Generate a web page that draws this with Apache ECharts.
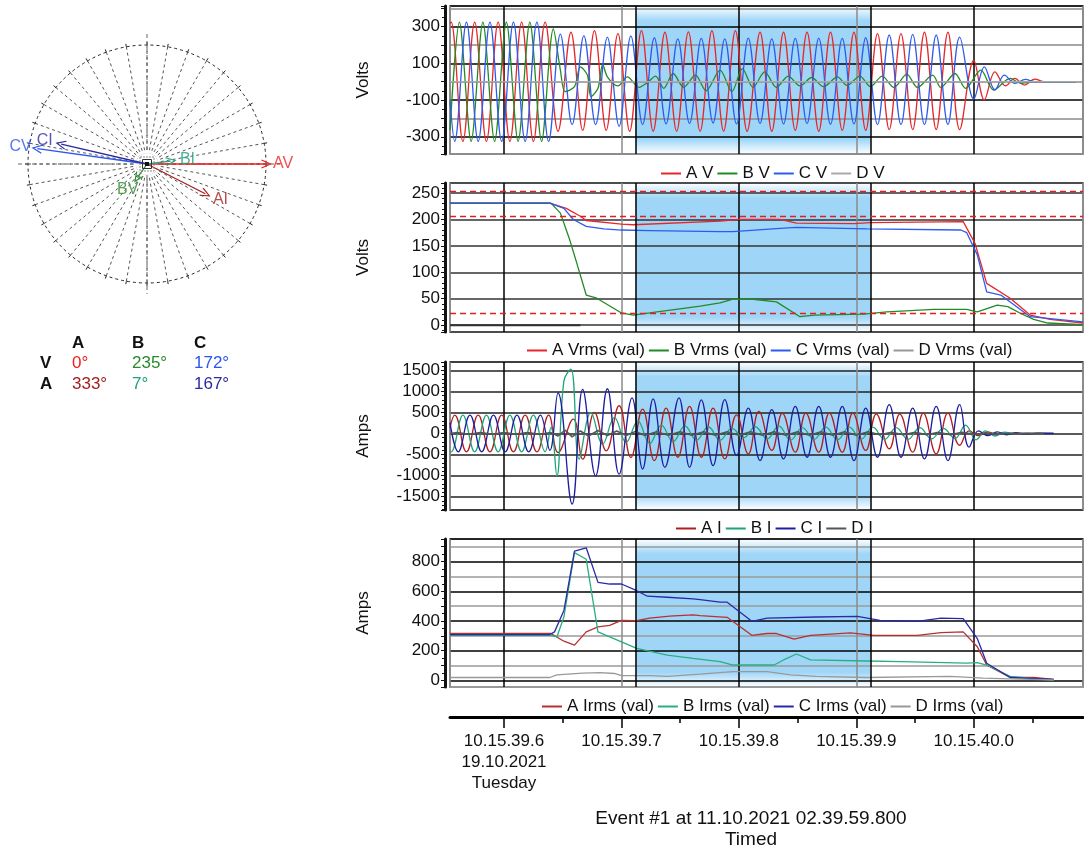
<!DOCTYPE html>
<html>
<head>
<meta charset="utf-8">
<script src="https://cdn.jsdelivr.net/npm/echarts/dist/echarts.min.js"></script>
<style>html,body{margin:0;padding:0;background:#fff}#main{width:1084px;height:849px}</style>
</head>
<body>
<div id="main"></div>
<script>
var FONT = '"Liberation Sans", Arial, sans-serif';
var chartDom = document.getElementById('main');
var myChart = echarts.init(chartDom);

// time is ms after 10.15.39.000
var timeMin = 554, timeMax = 1093;
var cursorTimes = [712, 912];
var tickTimes = [600, 700, 800, 900, 1000];
var tickLabels = ['10.15.39.6\n19.10.2021\nTuesday', '10.15.39.7', '10.15.39.8', '10.15.39.9', '10.15.40.0'];
var minorTickTimes = [650, 750, 850, 950, 1050];

var voltWaveLabels = [300, 100, -100, -300];
var vrmsLimits = [253, 207, 23];

// phasors
var phasorNames = ['A', 'B', 'C'];
var voltAngles = [0, 235, 172];
var voltMags = [1.0, 0.14, 0.93];
var currAngles = [333, 7, 167];
var currMags = [0.55, 0.2, 0.74];

var voltColors = ['#e8262a', '#238a23', '#2d5bf0', '#aaaaaa'];
var currColors = ['#b21e1e', '#1fa478', '#1d1da0', '#555555'];
var irmsColors = ['#b83030', '#2aae80', '#2a2aa8', '#999999'];

// instantaneous voltages [ms, V] (peaks and troughs)
var avWave = [[554,318],[555,325],[565,-325],[575,325],[585,-325],[595,325],[605,-325],[615,325],[625,-325],[635,325],[646,-270],[657,270],[667,-265],[677,279],[687,-265],[697,262],[707,-270],[717,279],[727,-270],[737,270],[747,-270],[757,272],[767,-270],[777,279],[787,-270],[797,279],[807,-270],[818,270],[828,-270],[838,270],[848,-265],[858,270],[868,-270],[878,270],[888,-265],[898,270],[908,-265],[918,262],[928,-261],[938,262],[948,-261],[958,270],[968,-261],[978,270],[988,-261],[1000,117],[1009,-99],[1018,54],[1027,-23],[1035,18],[1043,-18],[1052,14],[1060,0],[1087,0]];
var bvWave = [[554,-263],[562,325],[572,-325],[582,325],[592,-325],[602,325],[612,-325],[622,325],[632,-325],[642,288],[648,63],[652,-54],[660,-27],[665,81],[671,36],[674,-81],[680,-36],[684,95],[688,27],[697,-23],[705,27],[715,-31],[722,-5],[729,31],[736,-36],[744,45],[753,-31],[763,36],[772,-49],[784,63],[794,-54],[803,72],[812,-31],[822,54],[832,-31],[842,31],[852,-23],[862,23],[872,-27],[884,27],[892,-20],[903,31],[912,-27],[922,31],[932,-31],[943,41],[952,-31],[965,36],[972,-31],[984,45],[993,-36],[1006,63],[1017,-45],[1031,18],[1040,-9],[1050,0],[1087,0]];
var cvWave = [[554,-100],[558,-325],[568,325],[578,-325],[588,325],[598,-325],[608,325],[618,-325],[628,325],[638,-325],[648,260],[658,-234],[668,252],[678,-234],[688,243],[698,-243],[708,250],[718,-234],[728,240],[738,-230],[748,234],[758,-228],[768,236],[778,-225],[788,234],[798,-230],[808,238],[818,-228],[828,234],[838,-230],[848,236],[858,-228],[868,238],[878,-232],[888,236],[898,-230],[908,240],[918,-234],[928,255],[938,-234],[948,258],[958,-234],[968,255],[978,-234],[988,243],[1000,-95],[1009,81],[1018,-45],[1026,36],[1035,-9],[1044,13],[1052,0],[1087,0]];
var dvWave = [[554,0],[1087,0]];

// rms voltages [ms, V]
var avRms = [[554,231],[639,231],[653,221],[665,206],[670,198],[700,191],[710,190],[784,197],[801,200],[835,200],[849,193],[898,192],[912,194],[991,196],[1001,155],[1011,79],[1031,51],[1048,19],[1065,11],[1093,4]];
var bvRms = [[554,231],[640,231],[648,212],[656,161],[662,117],[670,57],[679,51],[700,23],[710,19],[724,23],[767,36],[784,42],[795,49],[812,49],[832,44],[852,16],[864,19],[906,21],[926,25],[966,30],[994,30],[1003,25],[1020,38],[1029,35],[1040,22],[1051,11],[1063,4],[1093,1]];
var cvRms = [[554,231],[639,231],[651,221],[659,200],[670,187],[685,182],[700,180],[724,179],[784,177],[795,177],[835,183],[849,185],[909,182],[989,180],[994,175],[1003,133],[1011,63],[1023,57],[1048,16],[1093,6]];
var dvRms = [[554,0],[665,0]];

// instantaneous currents [ms, A]
var aiWave = [[554,135],[558,436],[568,-436],[578,436],[588,-436],[598,436],[608,-436],[618,436],[628,-436],[638,436],[646,-452],[659,341],[667,-611],[677,500],[687,-413],[698,659],[708,-571],[718,580],[728,-645],[738,605],[748,-565],[758,645],[768,-565],[778,605],[788,-605],[798,444],[808,-484],[817,524],[828,-403],[837,480],[848,-444],[857,484],[868,-444],[877,484],[888,-444],[897,484],[908,-403],[917,460],[928,-363],[937,460],[948,-444],[957,484],[968,-484],[978,484],[988,-280],[996,60],[1004,-50],[1012,40],[1020,-30],[1028,20],[1036,-10],[1046,8],[1054,0],[1068,0]];
var biWave = [[554,-430],[555,-436],[565,436],[575,-436],[585,436],[595,-436],[605,436],[615,-436],[625,436],[635,-436],[640,150],[645,-1008],[651,1250],[657,1532],[664,-611],[674,500],[684,-254],[694,381],[704,-214],[714,302],[724,-240],[734,200],[744,-200],[754,180],[764,-160],[774,160],[784,-160],[794,120],[804,-100],[814,160],[824,-130],[834,180],[844,-160],[854,140],[864,-140],[874,150],[884,-150],[894,150],[904,-140],[914,150],[924,-140],[934,140],[944,-140],[954,140],[964,-130],[974,120],[984,-120],[993,200],[1002,-150],[1010,60],[1018,-60],[1026,30],[1035,0],[1068,0]];
var ciWave = [[554,256],[561,-436],[571,436],[581,-436],[591,436],[601,-436],[611,436],[621,-436],[631,436],[639,-400],[646,968],[658,-1677],[667,1048],[678,-1008],[688,1064],[698,-968],[709,847],[718,-847],[727,823],[737,-806],[749,847],[758,-806],[768,800],[778,-766],[788,806],[798,-524],[808,605],[818,-645],[828,565],[838,-605],[848,645],[858,-565],[868,645],[878,-565],[888,645],[898,-645],[908,605],[918,-565],[928,685],[938,-565],[948,605],[958,-605],[968,645],[978,-645],[988,685],[996,-323],[1004,60],[1012,-50],[1020,40],[1028,-30],[1036,20],[1044,-10],[1054,5],[1068,0]];
var diWave = [[554,0],[560,20],[570,-20],[580,20],[590,-20],[600,20],[610,-20],[620,20],[630,-20],[640,20],[646,-60],[652,80],[658,-80],[665,60],[672,-60],[680,70],[688,-50],[696,60],[704,-50],[712,50],[720,-50],[730,40],[740,-40],[750,40],[760,-40],[770,40],[780,-40],[790,40],[800,-40],[810,40],[820,-40],[830,40],[840,-40],[850,40],[860,-40],[870,40],[880,-40],[890,40],[900,-40],[910,40],[920,-30],[930,30],[940,-30],[950,30],[960,-30],[970,30],[980,-30],[990,30],[1000,-20],[1010,10],[1020,-10],[1030,0],[1060,0]];

// rms currents [ms, A]
var aiRms = [[554,316],[640,316],[651,264],[660,238],[670,327],[680,360],[690,371],[700,404],[713,402],[724,420],[741,433],[761,442],[767,436],[790,425],[811,304],[824,316],[832,316],[847,278],[861,304],[895,320],[915,304],[952,304],[972,322],[991,327],[1003,227],[1011,104],[1031,20],[1051,20],[1068,7]];
var biRms = [[554,304],[640,304],[645,293],[651,427],[660,860],[670,816],[680,327],[700,260],[713,216],[739,171],[761,149],[784,127],[795,104],[830,104],[838,138],[849,178],[861,138],[909,131],[938,127],[994,116],[1003,120],[1011,104],[1031,27],[1068,0]];
var ciRms = [[554,309],[639,309],[643,327],[651,471],[660,871],[670,893],[680,660],[690,649],[700,649],[713,604],[722,567],[739,560],[761,549],[767,544],[784,527],[790,527],[811,398],[824,420],[866,427],[901,431],[920,404],[952,398],[972,420],[991,416],[1003,282],[1011,116],[1031,20],[1068,7]];
var diRms = [[554,20],[639,20],[645,38],[667,49],[682,53],[694,47],[700,33],[724,33],[739,27],[767,42],[795,60],[824,60],[844,38],[866,27],[909,20],[980,27],[1008,16],[1031,11],[1068,4]];

var gridTops = [6, 183, 362, 539];
var gridHeights = [148, 149, 148, 148];

var highlight = new echarts.graphic.LinearGradient(0, 0, 0, 1, [
    {offset: 0, color: 'rgba(159,214,248,0)'},
    {offset: 0.1, color: '#9fd6f8'},
    {offset: 0.9, color: '#9fd6f8'},
    {offset: 1, color: 'rgba(159,214,248,0)'}
]);

function cursorMarks(extra) {
    var data = [{xAxis: cursorTimes[0]}, {xAxis: cursorTimes[1]}];
    return {
        symbol: ['none', 'none'], silent: true, label: {show: false},
        lineStyle: {color: '#000', type: 'solid', width: 1.5},
        data: data.concat(extra || [])
    };
}

function line(name, data, color, idx, smooth, width, first, extra) {
    var s = {
        name: name, type: 'line', xAxisIndex: idx, yAxisIndex: idx,
        data: data, symbol: 'none', smooth: smooth,
        lineStyle: {color: color, width: width || 1.3},
        itemStyle: {color: color}, z: 2
    };
    if (first) {
        s.markLine = cursorMarks(extra);
        s.markArea = {silent: true, z: 0.5, itemStyle: {color: highlight},
            data: [[{xAxis: cursorTimes[0]}, {xAxis: cursorTimes[1]}]]};
    }
    return s;
}

var limitMarks = vrmsLimits.map(function (v) {
    return {yAxis: v, lineStyle: {color: '#e02020', type: [6, 4], width: 1.3}};
});

var series = [
    line('A V', avWave, voltColors[0], 0, 0.36, 1.3, true),
    line('B V', bvWave, voltColors[1], 0, 0.3),
    line('C V', cvWave, voltColors[2], 0, 0.36),
    line('D V', dvWave, voltColors[3], 0, false),
    line('A Vrms (val)', avRms, voltColors[0], 1, false, 1.3, true, limitMarks),
    line('B Vrms (val)', bvRms, voltColors[1], 1, false),
    line('C Vrms (val)', cvRms, voltColors[2], 1, false),
    line('D Vrms (val)', dvRms, '#333333', 1, false, 2),
    line('A I', aiWave, currColors[0], 2, 0.45, 1.3, true),
    line('B I', biWave, currColors[1], 2, 0.4),
    line('C I', ciWave, currColors[2], 2, 0.42),
    line('D I', diWave, currColors[3], 2, false, 1.6),
    line('A Irms (val)', aiRms, irmsColors[0], 3, false, 1.3, true),
    line('B Irms (val)', biRms, irmsColors[1], 3, false),
    line('C Irms (val)', ciRms, irmsColors[2], 3, false),
    line('D Irms (val)', diRms, irmsColors[3], 3, false)
];

// phasor arrows and labels
var ARROW = 'path://M0,10 L5,0 L10,10';
var phasorColors = ['#ee2020', '#2a8a2a', '#2a55ee', '#a52020', '#20a080', '#2c2c9c'];
var phasors = [];
phasorNames.forEach(function (p, i) {
    phasors.push({name: p + 'V', ang: voltAngles[i], mag: voltMags[i], color: phasorColors[i]});
});
phasorNames.forEach(function (p, i) {
    phasors.push({name: p + 'I', ang: currAngles[i], mag: currMags[i], color: phasorColors[3 + i]});
});
var labelData = [];
phasors.forEach(function (ph) {
    series.push({
        type: 'line', coordinateSystem: 'polar', polarIndex: 0, silent: true, z: 3,
        symbol: ARROW, symbolSize: [8, 9],
        lineStyle: {color: ph.color, width: 1.3},
        itemStyle: {color: 'none', borderColor: ph.color, borderWidth: 1.2},
        data: [{value: [0, ph.ang], symbol: 'none'},
               {value: [ph.mag, ph.ang], symbolRotate: ph.ang - 90}]
    });
    var rad = ph.ang * Math.PI / 180;
    labelData.push({
        name: ph.name, value: [ph.mag, ph.ang],
        label: {color: ph.color, offset: [Math.cos(rad) * 17, -Math.sin(rad) * 14]}
    });
});
series.push({
    type: 'scatter', coordinateSystem: 'polar', polarIndex: 0, silent: true, z: 4,
    symbolSize: 1, itemStyle: {color: 'rgba(0,0,0,0)'},
    label: {show: true, position: 'inside', formatter: '{b}', fontSize: 16, fontFamily: FONT},
    data: labelData
});

var xAxes = [];
var yAxes = [];
for (var g = 0; g < 4; g++) {
    xAxes.push({
        type: 'value', gridIndex: g, min: timeMin, max: timeMax, splitNumber: 5, z: 1,
        axisLine: {show: false}, axisTick: {show: false}, axisLabel: {show: false},
        splitLine: {show: true, lineStyle: {color: ['#8a8a8a', '#000'], width: 1.5}}
    });
}
xAxes.push({
    type: 'value', gridIndex: 4, min: timeMin, max: timeMax, position: 'bottom',
    axisLine: {show: true, onZero: false, lineStyle: {color: '#000', width: 3}},
    axisTick: {show: true, customValues: tickTimes, length: 11, lineStyle: {color: '#000', width: 1.5}},
    axisLabel: {
        customValues: tickTimes, margin: 14, fontSize: 17, lineHeight: 21, color: '#111', fontFamily: FONT,
        formatter: function (v) { var i = tickTimes.indexOf(v); return i >= 0 ? tickLabels[i] : ''; }
    },
    splitLine: {show: false}
});
xAxes.push({
    type: 'value', gridIndex: 4, min: timeMin, max: timeMax, position: 'top',
    axisLine: {show: false},
    axisTick: {show: true, inside: true, customValues: minorTickTimes, length: 6, lineStyle: {color: '#000', width: 1.5}},
    axisLabel: {show: false}, splitLine: {show: false}
});

function yAxis(g, min, max, split, minor, name, labelFilter, splitColor) {
    return {
        type: 'value', gridIndex: g, min: min, max: max, splitNumber: split, offset: 5, z: 1,
        name: name, nameLocation: 'middle', nameGap: 73,
        nameTextStyle: {fontSize: 17, color: '#111', fontFamily: FONT},
        axisLine: {show: true, onZero: false, lineStyle: {color: '#111', width: 3}},
        axisTick: {show: true, length: 4, lineStyle: {color: '#111'}},
        minorTick: {show: true, splitNumber: minor, length: 3, lineStyle: {color: '#111'}},
        axisLabel: {
            fontSize: 17, color: '#111', margin: 5, fontFamily: FONT,
            showMinLabel: false, showMaxLabel: false,
            formatter: function (v) { return labelFilter(v) ? String(v) : ''; }
        },
        splitLine: {show: true, lineStyle: {color: splitColor, width: 1.5}}
    };
}
yAxes.push(yAxis(0, -394, 413, 8, 2, 'Volts', function (v) { return voltWaveLabels.indexOf(v) >= 0; }, ['#8a8a8a', '#000']));
yAxes.push(yAxis(1, -13, 269, 5, 5, 'Volts', function (v) { return v >= 0 && v % 50 === 0; }, '#333'));
yAxes.push(yAxis(2, -1820, 1700, 7, 5, 'Amps', function (v) { return v % 500 === 0; }, '#222'));
yAxes.push(yAxis(3, -44, 952, 10, 2, 'Amps', function (v) { return v >= 0 && v % 200 === 0; }, ['#9a9a9a', '#000']));
yAxes.push({type: 'value', gridIndex: 4, show: false});

var grids = gridTops.map(function (t, i) {
    return {left: 450, right: 1, top: t, height: gridHeights[i], show: true, borderColor: '#999', borderWidth: 2};
});
grids.push({left: 450, right: 1, top: 716, height: 1});

function legend(names, left, top) {
    return {
        data: names, left: left, top: top, itemWidth: 20, itemHeight: 2, itemGap: 4,
        icon: 'path://M0,0 L20,0 L20,2 L0,2 Z',
        selectedMode: false, textStyle: {fontSize: 17, color: '#111', fontFamily: FONT}
    };
}

var tableCols = ['A', 'B', 'C'];
var tableRows = ['V', 'A'];
var colX = [72, 132, 194];
var rowY = [363, 384];
var graphics = [
    {type: 'line', z: 1, shape: {x1: 147, y1: 34, x2: 147, y2: 294}, style: {stroke: '#666', lineDash: [4, 3], lineWidth: 1}},
    {type: 'line', z: 1, shape: {x1: 18, y1: 164, x2: 280, y2: 164}, style: {stroke: '#666', lineDash: [4, 3], lineWidth: 1}},
    {type: 'circle', z: 1, shape: {cx: 147, cy: 164, r: 11}, style: {fill: '#fff'}},
    {type: 'rect', z: 5, shape: {x: 140, y: 157, width: 14, height: 14}, style: {fill: 'none', stroke: '#888', lineDash: [2, 1], lineWidth: 1}},
    {type: 'rect', z: 5, shape: {x: 142.5, y: 159.5, width: 9, height: 9}, style: {fill: 'none', stroke: '#333', lineWidth: 1}},
    {type: 'rect', z: 5, shape: {x: 145, y: 162, width: 4, height: 4}, style: {fill: '#111'}}
];
function txt(s, x, y, color, bold) {
    return {type: 'text', x: x, y: y, style: {
        text: s, fill: color, font: (bold ? 'bold ' : '') + '17px ' + FONT,
        align: 'left', verticalAlign: 'middle', textAlign: 'left', textVerticalAlign: 'middle'}};
}
tableCols.forEach(function (c, i) { graphics.push(txt(c, colX[i], 343, '#111', true)); });
tableRows.forEach(function (r, j) { graphics.push(txt(r, 40, rowY[j], '#111', true)); });
phasorNames.forEach(function (p, i) {
    graphics.push(txt(voltAngles[i] + '°', colX[i], rowY[0], phasorColors[i], false));
    graphics.push(txt(currAngles[i] + '°', colX[i], rowY[1], phasorColors[3 + i], false));
});

var option = {
    animation: false,
    textStyle: {fontFamily: FONT},
    title: {
        text: 'Event #1 at 11.10.2021 02.39.59.800\nTimed', left: 746, top: 803, textAlign: 'center',
        textStyle: {fontSize: 19, fontWeight: 'normal', color: '#111', lineHeight: 21, fontFamily: FONT}
    },
    legend: [
        legend(['A V', 'B V', 'C V', 'D V'], 656, 160),
        legend(['A Vrms (val)', 'B Vrms (val)', 'C Vrms (val)', {name: 'D Vrms (val)', itemStyle: {color: '#999'}}], 522, 337),
        legend(['A I', 'B I', 'C I', 'D I'], 671, 515),
        legend(['A Irms (val)', 'B Irms (val)', 'C Irms (val)', 'D Irms (val)'], 537, 693)
    ],
    grid: grids,
    xAxis: xAxes,
    yAxis: yAxes,
    polar: {center: [147, 164], radius: 119},
    angleAxis: {
        type: 'value', polarIndex: 0, min: 0, max: 360, interval: 10, startAngle: 0, clockwise: false,
        axisLine: {lineStyle: {color: '#222', type: [3, 3], width: 1}},
        axisTick: {show: true, length: 3, lineStyle: {color: '#222'}},
        axisLabel: {show: false},
        splitLine: {show: true, lineStyle: {color: '#555', type: [3, 3], width: 1}}
    },
    radiusAxis: {
        type: 'value', polarIndex: 0, min: 0, max: 1,
        axisLine: {show: false}, axisTick: {show: false}, axisLabel: {show: false}, splitLine: {show: false}
    },
    graphic: graphics,
    series: series
};

myChart.setOption(option);
</script>
</body>
</html>
